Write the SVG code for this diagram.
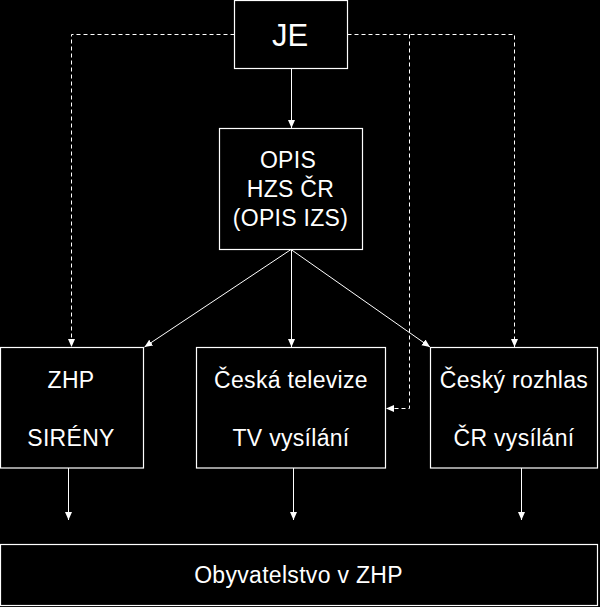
<svg xmlns="http://www.w3.org/2000/svg" width="600" height="607" viewBox="0 0 600 607">
<defs>
<style>
.box{fill:#000;stroke:#fff;stroke-width:1.2}
.ln{fill:none;stroke:#fff;stroke-width:1}
.dash{fill:none;stroke:#fff;stroke-width:1;stroke-dasharray:4 3}
text{font-family:"Liberation Sans",Arial,sans-serif;fill:#fff;text-anchor:middle;font-size:23px;letter-spacing:0.3px}
</style>
<marker id="ah" markerUnits="userSpaceOnUse" markerWidth="9" markerHeight="8" refX="8" refY="3.5" orient="auto">
<path d="M0,0 L8,3.5 L0,7 z" fill="#fff"/>
</marker>
</defs>
<rect x="0" y="0" width="600" height="607" fill="#000"/>
<g id="connectors">
<line class="ln" x1="291.5" y1="68.5" x2="291.5" y2="128" marker-end="url(#ah)"/>
<line class="ln" x1="291" y1="249.5" x2="144.5" y2="347" marker-end="url(#ah)"/>
<line class="ln" x1="291.5" y1="249.5" x2="291.5" y2="347" marker-end="url(#ah)"/>
<line class="ln" x1="291" y1="249.5" x2="430" y2="347" marker-end="url(#ah)"/>
<path class="dash" d="M234.5,34.5 H71.5 V347" marker-end="url(#ah)"/>
<path class="dash" d="M347.5,34.5 H514.5 V347" marker-end="url(#ah)"/>
<path class="dash" d="M409.5,34.5 V408.5 H386" marker-end="url(#ah)"/>
<line class="ln" x1="68.5" y1="468" x2="68.5" y2="520" marker-end="url(#ah)"/>
<line class="ln" x1="293.5" y1="468" x2="293.5" y2="520" marker-end="url(#ah)"/>
<line class="ln" x1="521.5" y1="468" x2="521.5" y2="520" marker-end="url(#ah)"/>
</g>
<g id="je">
<rect class="box" x="234.5" y="0.5" width="113" height="68"/>
<text x="290" y="46" style="font-size:31px;letter-spacing:0">JE</text>
</g>
<g id="opis">
<rect class="box" x="219.5" y="128.5" width="143" height="121"/>
<text x="288" y="168">OPIS</text>
<text x="290.5" y="197">HZS ČR</text>
<text x="290.5" y="226">(OPIS IZS)</text>
</g>
<g id="zhp">
<rect class="box" x="0.5" y="347.5" width="143" height="120.5"/>
<text x="71" y="388">ZHP</text>
<text x="71" y="446">SIRÉNY</text>
</g>
<g id="ct">
<rect class="box" x="196.5" y="347.5" width="189" height="120.5"/>
<text x="291" y="388">Česká televize</text>
<text x="291" y="446">TV vysílání</text>
</g>
<g id="cr">
<rect class="box" x="430.5" y="347.5" width="167" height="120.5"/>
<text x="514" y="388">Český rozhlas</text>
<text x="514" y="446">ČR vysílání</text>
</g>
<g id="obyv">
<rect class="box" x="0.5" y="544.5" width="597" height="61"/>
<text x="298.5" y="583">Obyvatelstvo v ZHP</text>
</g>
</svg>
